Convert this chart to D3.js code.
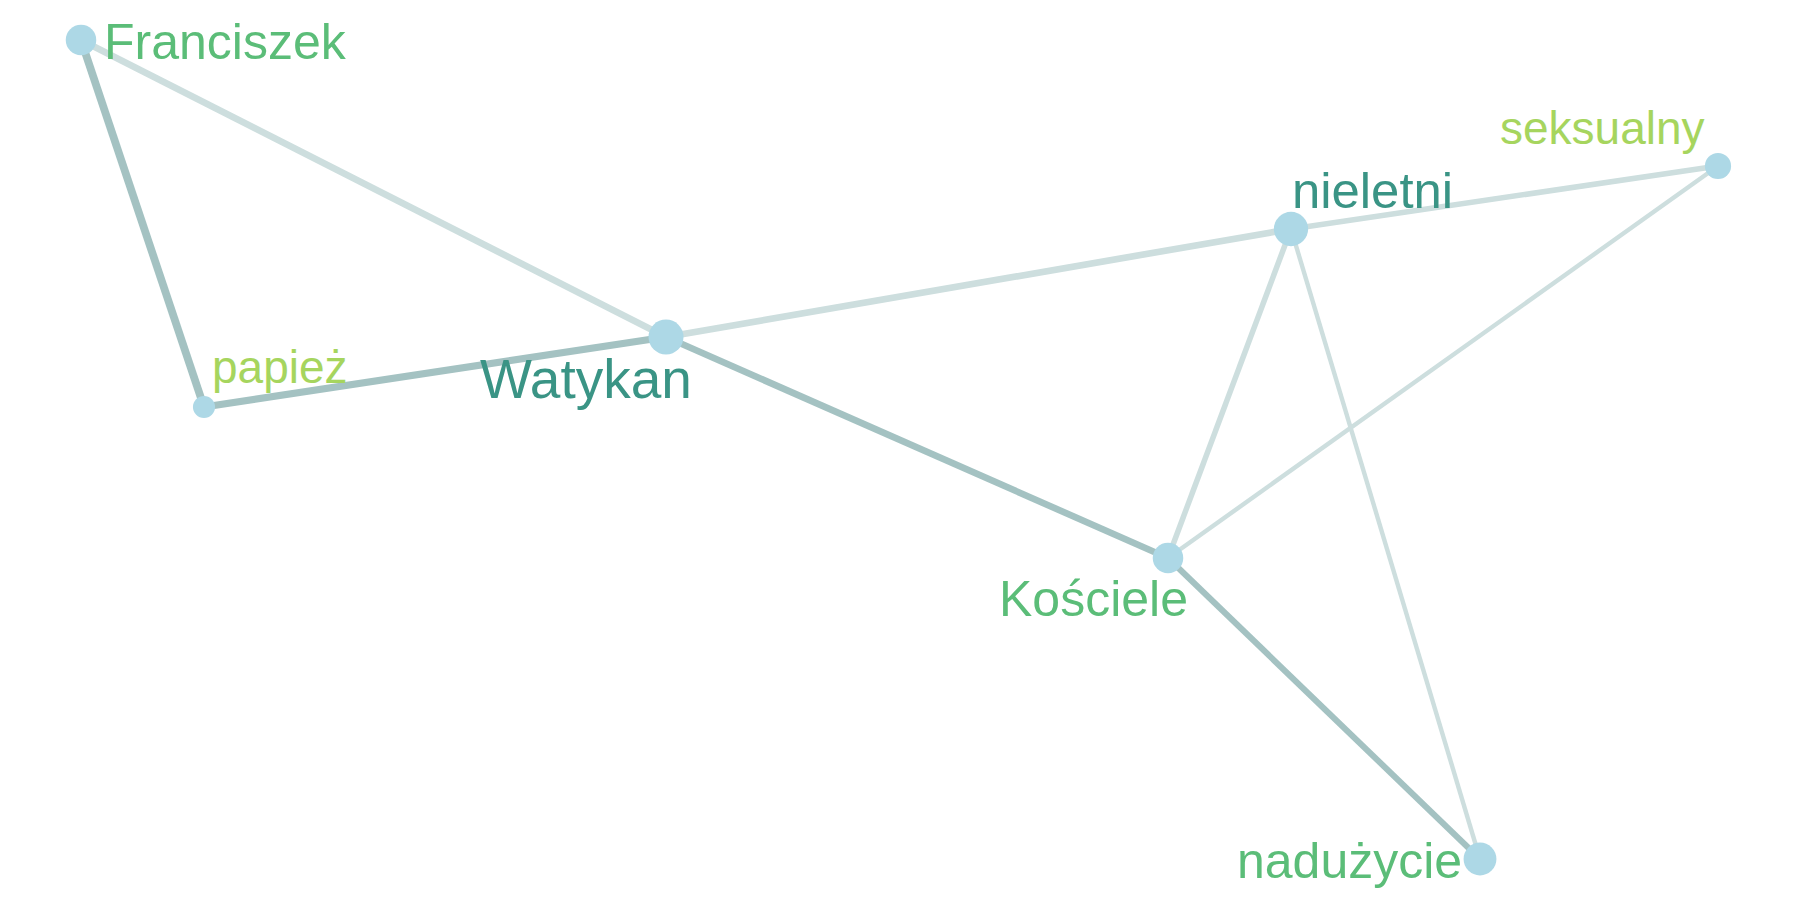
<!DOCTYPE html>
<html>
<head>
<meta charset="utf-8">
<script src="https://cdn.jsdelivr.net/npm/d3@7"></script>
<style>
  body { margin: 0; background: #ffffff; }
  text { font-family: "Liberation Sans", Arial, sans-serif; }
</style>
</head>
<body>
<script>
// nodes (layout coordinates, y grows upwards)
var nodeNames = ["Franciszek", "papież", "Watykan", "nieletni", "seksualny", "Kościele", "nadużycie"];
var nodeX = [0.81, 2.04, 6.66, 12.91, 17.18, 11.68, 14.80];
var nodeY = [8.60, 4.93, 5.63, 6.71, 7.34, 3.42, 0.41];
var nodeFreq = [19, 10, 25, 24, 14, 19, 22];
var labelScore = [9, 6, 12, 9.5, 6, 9, 9];

// edges
var edgeFrom = ["Franciszek", "papież", "Watykan", "Kościele", "Franciszek", "Watykan", "nieletni", "nieletni", "nieletni", "seksualny"];
var edgeTo = ["papież", "Watykan", "Kościele", "nadużycie", "Watykan", "nieletni", "seksualny", "Kościele", "nadużycie", "Kościele"];
var edgeCount = [14, 13, 12, 11, 12, 12, 10, 10, 8, 8];
var edgeCorr = [0.9, 0.9, 0.9, 0.9, 0.3, 0.3, 0.3, 0.3, 0.3, 0.3];

// label placement (repelled), pixels from the node
var labelDx = [23, 8, -186, 1, -218, -169, -243];
var labelDy = [19, -24, 61, -21, -22, 58, 19];

var width = 1800, height = 900;

var svg = d3.select("body").append("svg")
    .attr("width", width)
    .attr("height", height);

var x = d3.scaleLinear().domain([0, 18]).range([0, width]);
var y = d3.scaleLinear().domain([0, 9]).range([height, 0]);
var radius = d3.scaleSqrt().domain([0, 25]).range([0, 17.5]);
var edgeWidth = d3.scaleLinear().domain([8, 14]).range([4.4, 7.8]);
var edgeColor = d3.scaleLinear().domain([0.3, 0.9]).range(["#cddede", "#a4c2c2"]);
var labelSize = d3.scaleLinear().domain([6, 9, 12]).range([46, 50, 55]);
var labelColor = d3.scaleThreshold().domain([7, 9.5]).range(["#a6d55e", "#5bbd78", "#3a9485"]);

var nodes = nodeNames.map(function(n, i) {
    return { name: n, x: nodeX[i], y: nodeY[i], freq: nodeFreq[i], score: labelScore[i], dx: labelDx[i], dy: labelDy[i] };
});
var byName = {};
nodes.forEach(function(n) { byName[n.name] = n; });

var edges = edgeFrom.map(function(s, i) {
    return { source: byName[s], target: byName[edgeTo[i]], count: edgeCount[i], corr: edgeCorr[i] };
});

svg.append("g").selectAll("line")
    .data(edges)
    .enter().append("line")
    .attr("x1", function(d) { return x(d.source.x); })
    .attr("y1", function(d) { return y(d.source.y); })
    .attr("x2", function(d) { return x(d.target.x); })
    .attr("y2", function(d) { return y(d.target.y); })
    .attr("stroke", function(d) { return edgeColor(d.corr); })
    .attr("stroke-width", function(d) { return edgeWidth(d.count); });

svg.append("g").selectAll("circle")
    .data(nodes)
    .enter().append("circle")
    .attr("cx", function(d) { return x(d.x); })
    .attr("cy", function(d) { return y(d.y); })
    .attr("r", function(d) { return radius(d.freq); })
    .attr("fill", "#add8e6");

svg.append("g").selectAll("text")
    .data(nodes)
    .enter().append("text")
    .attr("x", function(d) { return x(d.x) + d.dx; })
    .attr("y", function(d) { return y(d.y) + d.dy; })
    .attr("font-size", function(d) { return labelSize(d.score); })
    .attr("fill", function(d) { return labelColor(d.score); })
    .text(function(d) { return d.name; });
</script>
</body>
</html>
